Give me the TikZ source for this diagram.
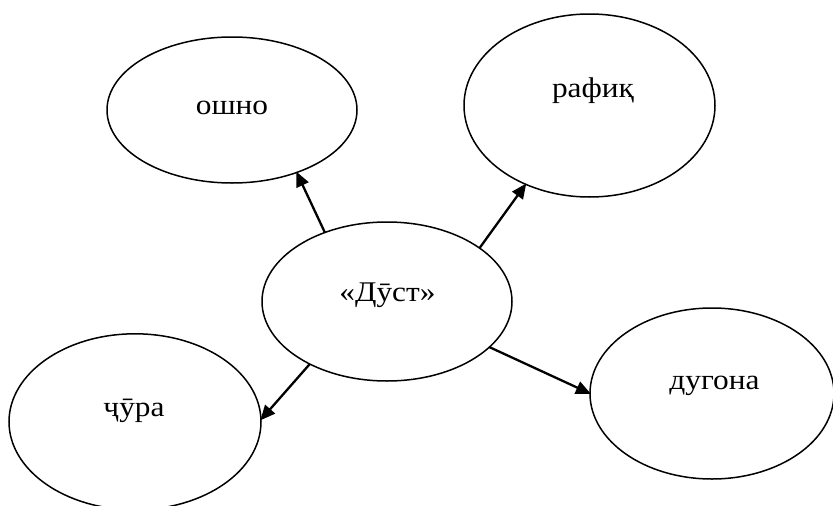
\documentclass[tikz,border=0pt]{standalone}
\usepackage{fontspec}
\setmainfont{Liberation Serif}[FakeStretch=1.1]
\usetikzlibrary{shapes.geometric,arrows.meta}
\begin{document}
\begin{tikzpicture}[x=1pt,y=-1pt,
  bubble/.style={draw=black,line width=1.5pt,ellipse,inner sep=0pt,outer sep=0pt},
  lbl/.style={inner sep=0pt,anchor=base,font=\fontsize{28.5pt}{31pt}\selectfont},
  link/.style={line width=2.3pt,-{Triangle[length=15pt,width=13pt]},shorten >=-1pt}]
\useasboundingbox (0,0) rectangle (833,506);
% ellipses
\node[bubble,minimum width=250pt,minimum height=159pt] (c) at (387,301.5) {};
\node[bubble,minimum width=250pt,minimum height=146pt] (o) at (232,110) {};
\node[bubble,minimum width=251pt,minimum height=183pt] (r) at (589.5,105.5) {};
\node[bubble,minimum width=252pt,minimum height=176pt] (ch) at (135,421.8) {};
\node[bubble,minimum width=244pt,minimum height=171pt] (d) at (712,393.5) {};
% labels
\node[lbl] (tc) at (387.5,301.5) {«Дӯст»};
\node[lbl] (to) at (232,114) {ошно};
\node[lbl] (tr) at (593,97.5) {рафиқ};
\node[lbl] (tch) at (134,416) {ҷӯра};
\node[lbl] (td) at (714.5,389) {дугона};
% connectors
\draw[link] (c.132.6) -- (o.316.4);
\draw[link] (c.30.3) -- (r.231.6);
\draw[link] (c.219.3) -- (ch.1.7);
\draw[link] (c.336.6) -- (d.180);
\end{tikzpicture}
\end{document}
